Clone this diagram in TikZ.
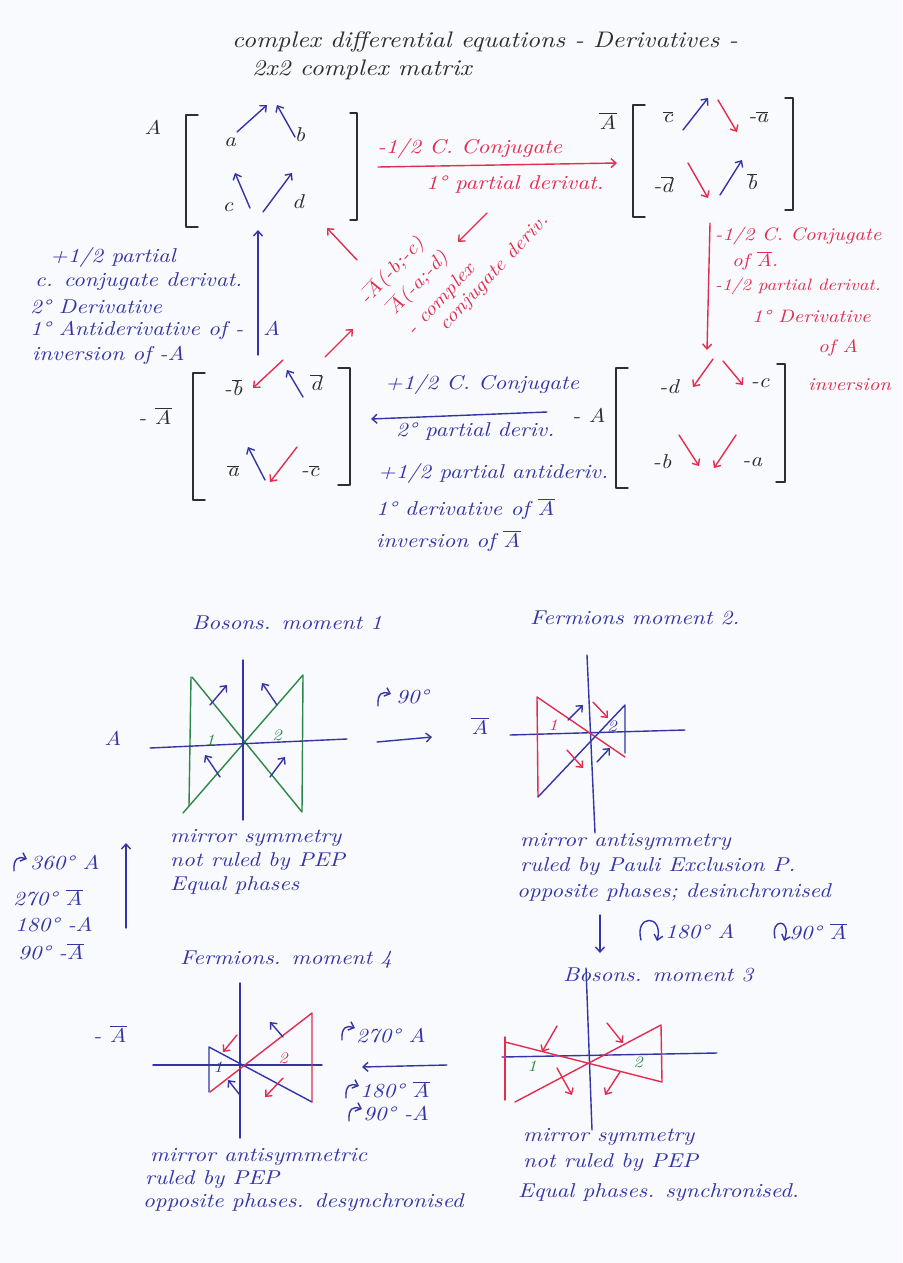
\documentclass[tikz,border=0pt]{standalone}
\usepackage{fontspec}
\newfontfamily\hand{lmroman10-italic.otf}[FakeStretch=1.15]
\usetikzlibrary{arrows.meta}
\definecolor{blueink}{RGB}{52,52,165}
\definecolor{redink}{RGB}{225,45,80}
\definecolor{greenink}{RGB}{45,135,70}
\definecolor{blackink}{RGB}{45,45,50}
\definecolor{paper}{RGB}{249,250,253}
\newcommand\ob[1]{\ensuremath{\overline{\mbox{#1}}}}
\tikzset{
  ink/.style={line width=1.4pt, line cap=round, line join=round},
  bl/.style={ink, draw=blueink},
  rd/.style={ink, draw=redink},
  gr/.style={ink, draw=greenink},
  bk/.style={ink, draw=blackink},
  tip/.style={-{Straight Barb[length=5pt,width=9pt]}},
  lbl/.style={font=\hand\fontsize{20}{24}\selectfont, inner sep=0pt, anchor=west},
  tb/.style={lbl, text=blueink},
  tr/.style={lbl, text=redink},
  trs/.style={tr, font=\hand\fontsize{18}{22}\selectfont},
  tk/.style={lbl, text=blackink},
  tg/.style={lbl, text=greenink, font=\hand\fontsize{16}{18}\selectfont},
  ent/.style={tk, anchor=center},
  diag/.style={tr, anchor=center, rotate=47, font=\hand\fontsize{19}{22}\selectfont},
}
\newcommand\turnarrow[3]{\draw[#1,tip] (#2,#3) .. controls +(-1,-13) and +(-8,-3) .. ++(13,-12);}
\begin{document}
\begin{tikzpicture}[x=1pt,y=-1pt]
\fill[paper] (0,0) rectangle (902,1263);
\useasboundingbox (0,0) rectangle (902,1263);

% ---------- title ----------
\node[tk, font=\hand\fontsize{22.5}{26}\selectfont] (title1) at (232,42) {complex differential equations - Derivatives -};
\node[tk, font=\hand\fontsize{22.5}{26}\selectfont] (title2) at (252,70) {2x2 complex matrix};

% ---------- matrix A ----------
\node[ent] (Alab) at (153,127) {A};
\draw[bk] (198,115) -- (186,115) -- (186,227) -- (198,227);
\draw[bk] (350,113) -- (357,113) -- (357,220) -- (350,220);
\node[ent] (ma) at (230,142) {a};
\node[ent] (mb) at (300,135) {b};
\node[ent] (mc) at (228,207) {c};
\node[ent] (md) at (298,202) {d};
\coordinate (aa1) at (237,132); \coordinate (aa2) at (267,105);
\coordinate (ab1) at (295,137); \coordinate (ab2) at (277,105);
\coordinate (ac1) at (250,208); \coordinate (ac2) at (235,173);
\coordinate (ad1) at (263,212); \coordinate (ad2) at (292,173);
\draw[bl,tip] (aa1) -- (aa2);
\draw[bl,tip] (ab1) -- (ab2);
\draw[bl,tip] (ac1) -- (ac2);
\draw[bl,tip] (ad1) -- (ad2);

% ---------- A -> Abar ----------
\coordinate (r1s) at (378,167); \coordinate (r1e) at (617,163);
\draw[rd,tip] (r1s) -- (r1e);
\node[tr, anchor=center] (r1t1) at (470,148) {-1/2 C. Conjugate};
\node[tr, anchor=center] (r1t2) at (515,184) {1° partial derivat.};

% ---------- matrix Abar ----------
\node[ent] (Ablab) at (608,121) {\ob{A}};
\draw[bk] (645,105) -- (633,105) -- (633,217) -- (645,217);
\draw[bk] (785,98) -- (793,98) -- (793,210) -- (785,210);
\node[ent] (mbc) at (668,117) {\ob{c}};
\node[ent] (mba) at (758,117) {-\ob{a}};
\node[ent] (mbd) at (663,185) {-\ob{d}};
\node[ent] (mbb) at (752,182) {\ob{b}};
\coordinate (b11) at (683,130); \coordinate (b12) at (708,98);
\coordinate (b21) at (718,100); \coordinate (b22) at (737,132);
\coordinate (b31) at (688,163); \coordinate (b32) at (708,198);
\coordinate (b41) at (720,195); \coordinate (b42) at (742,160);
\draw[bl,tip] (b11) -- (b12);
\draw[rd,tip] (b21) -- (b22);
\draw[rd,tip] (b31) -- (b32);
\draw[bl,tip] (b41) -- (b42);

% ---------- Abar -> -A ----------
\coordinate (r2s) at (710,223); \coordinate (r2e) at (707,350);
\draw[rd,tip] (r2s) -- (r2e);
\node[trs] (r2t1) at (715,236) {-1/2 C. Conjugate};
\node[trs] (r2t2) at (732,261) {of \ob{A}.};
\node[trs, font=\hand\fontsize{16.5}{20}\selectfont] (r2t3) at (715,286) {-1/2 partial derivat.};
\node[trs] (r2t4) at (752,316) {1° Derivative};
\node[trs] (r2t5) at (818,348) {of A};
\node[trs] (r2t6) at (808,385) {inversion};

% ---------- matrix -A ----------
\node[ent] (mAlab) at (589,415) {- A};
\draw[bk] (628,368) -- (616,368) -- (616,488) -- (628,488);
\draw[bk] (777,364) -- (785,364) -- (785,482) -- (776,482);
\node[ent] (mmd) at (669,387) {-d};
\node[ent] (mmc) at (760,383) {-c};
\node[ent] (mmb) at (662,462) {-b};
\node[ent] (mma) at (752,462) {-a};
\coordinate (c11) at (713,359); \coordinate (c12) at (693,387);
\coordinate (c21) at (723,361); \coordinate (c22) at (743,385);
\coordinate (c31) at (679,435); \coordinate (c32) at (699,466);
\coordinate (c41) at (736,435); \coordinate (c42) at (714,468);
\draw[rd,tip] (c11) -- (c12);
\draw[rd,tip] (c21) -- (c22);
\draw[rd,tip] (c31) -- (c32);
\draw[rd,tip] (c41) -- (c42);

% ---------- -A -> -Abar ----------
\coordinate (b3s) at (547,412); \coordinate (b3e) at (371,419);
\draw[bl,tip] (b3s) -- (b3e);
\node[tb] (b3t1) at (385,384) {+1/2 C. Conjugate};
\node[tb] (b3t2) at (396,431) {2° partial deriv.};
\node[tb] (b3t3) at (378,473) {+1/2 partial antideriv.};
\node[tb] (b3t4) at (376,509) {1° derivative of \ob{A}};
\node[tb] (b3t5) at (376,541) {inversion of \ob{A}};

% ---------- matrix -Abar ----------
\node[ent] (mAblab) at (155,416) {- \ob{A}};
\draw[bk] (205,373) -- (193,373) -- (193,500) -- (205,500);
\draw[bk] (338,368) -- (350,368) -- (350,485) -- (338,485);
\node[ent] (nb) at (233,388) {-\ob{b}};
\node[ent] (nd) at (316,383) {\ob{d}};
\node[ent] (na) at (233,471) {\ob{a}};
\node[ent] (nc) at (310,471) {-\ob{c}};
\coordinate (d11) at (283,360); \coordinate (d12) at (253,388);
\coordinate (d21) at (303,397); \coordinate (d22) at (287,370);
\coordinate (d31) at (265,480); \coordinate (d32) at (248,447);
\coordinate (d41) at (297,447); \coordinate (d42) at (270,482);
\draw[rd,tip] (d11) -- (d12);
\draw[bl,tip] (d21) -- (d22);
\draw[bl,tip] (d31) -- (d32);
\draw[rd,tip] (d41) -- (d42);

% ---------- -Abar -> A ----------
\coordinate (b4s) at (258,355); \coordinate (b4e) at (258,230);
\draw[bl,tip] (b4s) -- (b4e);
\node[tb] (b4t1) at (50,257) {+1/2 partial};
\node[tb] (b4t2) at (35,282) {c. conjugate derivat.};
\node[tb] (b4t3) at (30,307) {2° Derivative};
\node[tb] (b4t4) at (30,330) {1° Antiderivative of -};
\node[tb] (b4t4b) at (263,328) {A};
\node[tb] (b4t5) at (32,355) {inversion of -A};

% ---------- diagonal ----------
\coordinate (e1s) at (357,260); \coordinate (e1e) at (327,228);
\coordinate (e2s) at (325,357); \coordinate (e2e) at (353,329);
\coordinate (e3s) at (487,213); \coordinate (e3e) at (458,242);
\draw[rd,tip] (e1s) -- (e1e);
\draw[rd,tip] (e2s) -- (e2e);
\draw[rd,tip] (e3s) -- (e3e);
\node[diag] (dg1) at (392,271) {-\ob{A}(-b;-c)};
\node[diag] (dg2) at (418,283) {\ob{A}(-a;-d)};
\node[diag] (dg3) at (441,300) {- complex};
\node[diag] (dg4) at (494,273) {conjugate deriv.};

% ---------- moment 1 ----------
\node[tb] (m1t) at (192,623) {Bosons. moment 1};
\node[tb, anchor=center] (m1lab) at (113,738) {A};
\draw[gr] (192,677) -- (302,812) -- (303,675) -- (183,813);
\draw[gr] (191,677) -- (189,806);
\draw[bl] (243,660) -- (243,820);
\draw[bl] (150,748) -- (347,739);
\draw[bl,tip] (210,705) -- (227,685);
\draw[bl,tip] (277,705) -- (262,683);
\draw[bl,tip] (220,777) -- (205,755);
\draw[bl,tip] (270,777) -- (285,757);
\node[tg, anchor=center] (m1n1) at (210,740) {1};
\node[tg, anchor=center] (m1n2) at (277,735) {2};
\node[tb] (m1s1) at (170,838) {mirror symmetry};
\node[tb] (m1s2) at (170,862) {not ruled by PEP};
\node[tb] (m1s3) at (170,885) {Equal phases};
\turnarrow{bl}{378}{706}
\node[tb] (m12t) at (396,697) {90°};
\coordinate (m12s) at (377,742); \coordinate (m12e) at (432,737);
\draw[bl,tip] (m12s) -- (m12e);

% ---------- moment 2 ----------
\node[tb] (m2t) at (530,618) {Fermions moment 2.};
\node[tb, anchor=center] (m2lab) at (480,726) {\ob{A}};
\draw[bl] (587,655) -- (595,833);
\draw[bl] (510,735) -- (685,730);
\draw[rd] (538,797) -- (537,697) -- (625,757);
\draw[bl] (538,797) -- (625,705) -- (625,753);
\draw[bl,tip] (568,720) -- (583,705);
\draw[rd,tip] (593,702) -- (608,718);
\draw[rd,tip] (567,750) -- (583,768);
\draw[bl,tip] (597,762) -- (610,748);
\node[tg, text=redink, anchor=center] (m2n1) at (553,725) {1};
\node[tg, text=blueink, anchor=center] (m2n2) at (612,726) {2};
\node[tb] (m2s1) at (520,842) {mirror antisymmetry};
\node[tb] (m2s2) at (520,867) {ruled by Pauli Exclusion P.};
\node[tb] (m2s3) at (517,892) {opposite phases; desinchronised};
\coordinate (m23s) at (600,915); \coordinate (m23e) at (600,953);
\draw[bl,tip] (m23s) -- (m23e);
\draw[bl,tip] (641,940) .. controls (634,914) and (664,914) .. (657,941);
\node[tb] (m23t1) at (665,932) {180° A};
\draw[bl,tip] (775,938) .. controls (770,918) and (792,918) .. (784,941);
\node[tb] (m23t2) at (789,932) {90° \ob{A}};

% ---------- moment 3 ----------
\node[tb] (m3t) at (563,975) {Bosons. moment 3};
\draw[bl] (586,968) -- (592,1130);
\draw[bl] (502,1057) -- (717,1053);
\draw[rd] (505,1037) -- (505,1100);
\draw[rd] (505,1042) -- (662,1082) -- (661,1025) -- (515,1102);
\draw[rd,tip] (557,1026) -- (542,1052);
\draw[rd,tip] (607,1023) -- (623,1043);
\draw[rd,tip] (557,1068) -- (572,1095);
\draw[rd,tip] (620,1072) -- (605,1095);
\node[tg, anchor=center] (m3n1) at (532,1066) {1};
\node[tg, anchor=center] (m3n2) at (638,1062) {2};
\node[tb] (m3s1) at (523,1137) {mirror symmetry};
\node[tb] (m3s2) at (523,1163) {not ruled by PEP};
\node[tb] (m3s3) at (518,1193) {Equal phases. synchronised.};

% ---------- moment 4 ----------
\node[tb] (m4t) at (180,960) {Fermions. moment 4};
\node[tb, anchor=center] (m4lab) at (110,1034) {- \ob{A}};
\draw[bl] (240,983) -- (240,1138);
\draw[bl] (153,1065) -- (322,1065);
\draw[bl] (209,1092) -- (209,1047) -- (312,1102);
\draw[rd] (210,1092) -- (312,1013) -- (312,1102);
\draw[rd,tip] (237,1035) -- (223,1052);
\draw[bl,tip] (283,1037) -- (270,1022);
\draw[bl,tip] (240,1095) -- (228,1080);
\draw[rd,tip] (283,1078) -- (265,1097);
\node[tg, text=blueink, anchor=center] (m4n1) at (218,1067) {1};
\node[tg, text=redink, anchor=center] (m4n2) at (283,1058) {2};
\turnarrow{bl}{342}{1040}
\node[tb] (m43t1) at (356,1036) {270° A};
\coordinate (m43s) at (447,1065); \coordinate (m43e) at (362,1067);
\draw[bl,tip] (m43s) -- (m43e);
\turnarrow{bl}{346}{1098}
\node[tb] (m43t2) at (360,1090) {180° \ob{A}};
\turnarrow{bl}{349}{1121}
\node[tb] (m43t3) at (363,1114) {90° -A};
\node[tb] (m4s1) at (150,1157) {mirror antisymmetric};
\node[tb] (m4s2) at (145,1180) {ruled by PEP};
\node[tb] (m4s3) at (143,1203) {opposite phases. desynchronised};

% ---------- moment 4 -> moment 1 ----------
\coordinate (m41s) at (126,928); \coordinate (m41e) at (126,843);
\draw[bl,tip] (m41s) -- (m41e);
\turnarrow{bl}{14}{871}
\node[tb] (m41t1) at (30,863) {360° A};
\node[tb] (m41t2) at (13,898) {270° \ob{A}};
\node[tb] (m41t3) at (15,925) {180° -A};
\node[tb] (m41t4) at (18,952) {90° -\ob{A}};
\end{tikzpicture}
\end{document}
